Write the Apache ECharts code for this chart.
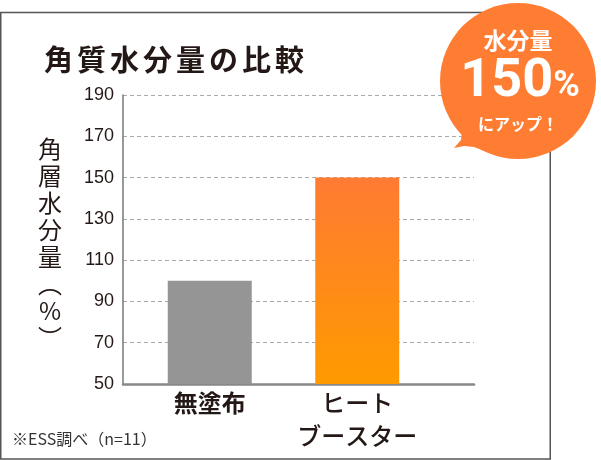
<!DOCTYPE html>
<html><head><meta charset="utf-8">
<script src="https://cdn.jsdelivr.net/npm/echarts@6/dist/echarts.min.js"></script>
<style>html,body{margin:0;padding:0;background:#fff}#c{width:601px;height:460px}</style>
</head><body><div id="c"></div>
<script>
const categories = ['無塗布', 'ヒート\nブースター'];
const values = [100, 150];
const yMin = 50, yMax = 190, yInterval = 20;
const title = '角質水分量の比較';
const yName = ['角', '層', '水', '分', '量', '︵', '%', '︶'];
const note = '※ESS調べ（n=11）';
const badge = ['水分量', '150', '%', 'にアップ！'];

const JP = '"Noto Sans CJK JP", sans-serif';
const chart = echarts.init(document.getElementById('c'), null, {renderer: 'canvas'});
const GRID_TOP = 95, GRID_BOTTOM = 76;

chart.setOption({
  animation: false,
  grid: [
    {left: 123, right: 127, top: GRID_TOP, bottom: GRID_BOTTOM},
    {left: 136, width: 295, top: GRID_TOP, bottom: GRID_BOTTOM}
  ],
  xAxis: [
    {gridIndex: 0, type: 'category', data: categories, boundaryGap: true,
     axisLine: {lineStyle: {color: '#888', width: 2.5}}, axisTick: {show: false},
     axisLabel: {show: false}, splitLine: {show: false}},
    {gridIndex: 1, type: 'category', data: categories,
     axisLine: {show: false}, axisTick: {show: false},
     axisLabel: {margin: 2, color: '#231815', fontFamily: JP,
       formatter: function (v) {
         const st = v === categories[0] ? 'b' : 'm';
         return v.split('\n').map(s => '{' + st + '|' + s + '}').join('\n');
       },
       rich: {
         b: {fontSize: 24, fontWeight: 'bold', lineHeight: 33, fontFamily: JP, color: '#231815'},
         m: {fontSize: 24, fontWeight: 500, lineHeight: 33, fontFamily: JP, color: '#231815'}
       }}}
  ],
  yAxis: [
    {gridIndex: 0, type: 'value', min: yMin, max: yMax, interval: yInterval,
     axisLine: {show: true, lineStyle: {color: '#777', width: 1.5}}, axisTick: {show: false},
     axisLabel: {margin: 9, fontSize: 18, color: '#231815', fontFamily: '"Liberation Sans", Arial, sans-serif'},
     splitLine: {show: true, lineStyle: {color: '#aaa', type: [4, 3], width: 1}}},
    {gridIndex: 1, type: 'value', min: yMin, max: yMax, interval: yInterval, show: false,
     splitLine: {show: false}}
  ],
  series: [{
    type: 'bar', xAxisIndex: 1, yAxisIndex: 1, barWidth: 84,
    data: values.map((v, i) => ({
      value: v,
      itemStyle: i === 0 ? {color: '#959595'} : {color: {type: 'linear', x: 0, y: 0, x2: 0, y2: 1, colorStops: [
        {offset: 0, color: '#FF7B33'}, {offset: 1, color: '#FF9A00'}]}}
    }))
  }],
  graphic: [
    {type: 'rect', z: 0, shape: {x: 0.75, y: 12.5, width: 549.5, height: 446.5},
     style: {fill: 'none', stroke: '#555', lineWidth: 1.5}, silent: true},
    {type: 'text', x: 44, y: 60, z: 10,
     style: {text: title.split('').map(c => '{t|' + c + '}').join(''), verticalAlign: 'middle',
       rich: {t: {fontSize: 29, fontWeight: 'bold', fontFamily: JP, fill: '#231815', color: '#231815', padding: [0, 4, 0, 0]}}}},
    {type: 'text', x: 50, y: 135.5, z: 10,
     style: {text: yName.join('\n'), fontSize: 24, lineHeight: 27, fontFamily: JP, fill: '#231815', align: 'center', verticalAlign: 'top'}},
    {type: 'text', x: 12, y: 439, z: 10,
     style: {text: note, fontSize: 16, fontFamily: JP, fill: '#333', verticalAlign: 'middle'}},
    {type: 'circle', z: 20, shape: {cx: 518, cy: 81, r: 78}, style: {fill: '#FF7D33'}},
    {type: 'polygon', z: 20, shape: {points: [[459, 120], [462, 132], [461, 140], [454, 148], [464, 146], [474, 147], [487, 152]]}, style: {fill: '#FF7D33'}},
    {type: 'text', x: 518, y: 40, z: 21,
     style: {text: badge[0], fontSize: 23, fontWeight: 'bold', fontFamily: JP, fill: '#fff', align: 'center', verticalAlign: 'middle'}},
    {type: 'text', x: 520, y: 82, z: 21,
     style: {text: '{n|' + badge[1] + '}{p|' + badge[2] + '}', align: 'center', verticalAlign: 'middle',
       rich: {n: {fontSize: 54, fontWeight: 'bold', fontFamily: 'Roboto, sans-serif', fill: '#fff', color: '#fff'},
              p: {fontSize: 36, fontWeight: 'bold', fontFamily: 'Roboto, sans-serif', fill: '#fff', color: '#fff', padding: [10, 0, 0, 0]}}}},
    {type: 'text', x: 518, y: 124, z: 21,
     style: {text: badge[3], fontSize: 16, fontWeight: 'bold', fontFamily: JP, fill: '#fff', align: 'center', verticalAlign: 'middle'}}
  ]
});
</script></body></html>
